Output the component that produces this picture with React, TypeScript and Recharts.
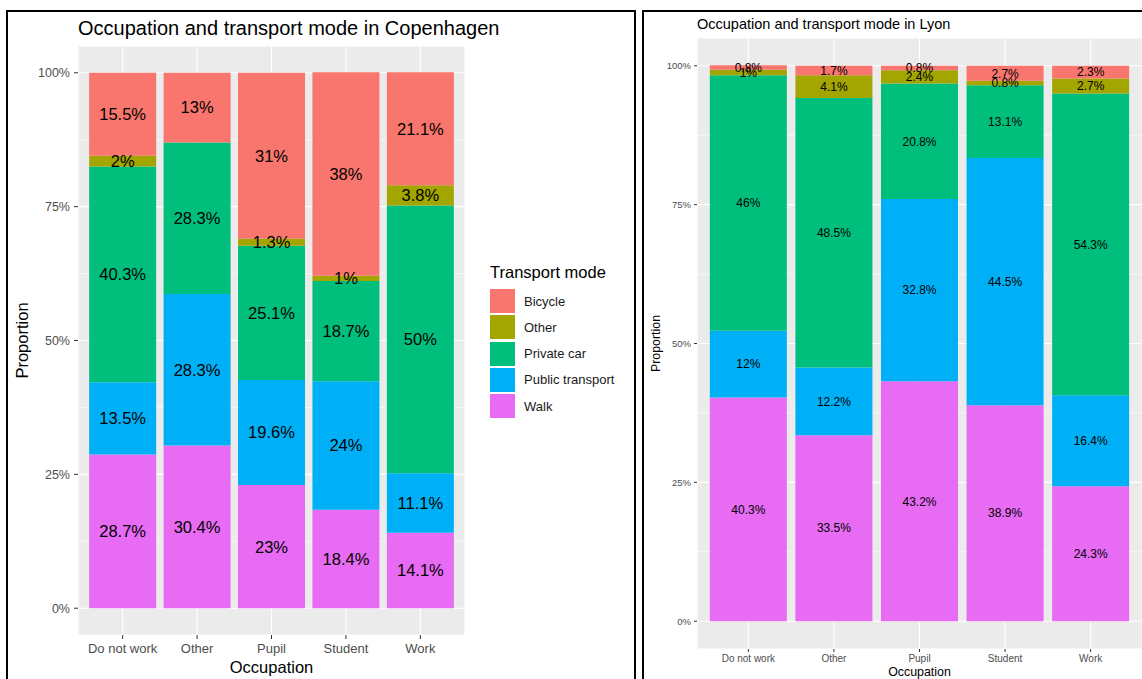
import React from 'react';
import { BarChart, Bar, XAxis, YAxis, CartesianGrid, LabelList, Legend } from 'recharts';

const FONT = '"Liberation Sans", Arial, Helvetica, sans-serif';

const occupations = ['Do not work', 'Other', 'Pupil', 'Student', 'Work'];
const modes = ['Bicycle', 'Other', 'Private car', 'Public transport', 'Walk'];
const modeColors = ['#F8766D', '#A3A500', '#00BF7D', '#00B0F6', '#E76BF3'];
const yTicks = [0, 25, 50, 75, 100];
const yMinorTicks = [12.5, 37.5, 62.5, 87.5];

// Copenhagen (percent)
const cphWalk = [28.7, 30.4, 23, 18.4, 14.1];
const cphPublic = [13.5, 28.3, 19.6, 24, 11.1];
const cphCar = [40.3, 28.3, 25.1, 18.7, 50];
const cphOther = [2, 0, 1.3, 1, 3.8];
const cphBicycle = [15.5, 13, 31, 38, 21.1];

// Lyon (percent)
const lyonWalk = [40.3, 33.5, 43.2, 38.9, 24.3];
const lyonPublic = [12, 12.2, 32.8, 44.5, 16.4];
const lyonCar = [46, 48.5, 20.8, 13.1, 54.3];
const lyonOther = [1, 4.1, 2.4, 0.8, 2.7];
const lyonBicycle = [0.8, 1.7, 0.8, 2.7, 2.3];

const buildData = (walk: number[], pub: number[], car: number[], other: number[], bike: number[]) =>
  occupations.map((occ, i) => ({
    occupation: occ,
    Walk: walk[i],
    'Public transport': pub[i],
    'Private car': car[i],
    Other: other[i],
    Bicycle: bike[i],
  }));

const cphData = buildData(cphWalk, cphPublic, cphCar, cphOther, cphBicycle);
const lyonData = buildData(lyonWalk, lyonPublic, lyonCar, lyonOther, lyonBicycle);

// stacking order bottom -> top
const stackOrder = ['Walk', 'Public transport', 'Private car', 'Other', 'Bicycle'];

const fmt = (v: any) => (v ? `${v}%` : '');

type PanelProps = {
  data: any[];
  width: number;
  height: number;
  top: number;
  xAxisHeight: number;
  yAxisWidth: number;
  xPad: number;
  yTickFont: number;
  xTickFont: number;
  yTickMargin: number;
  xTickMargin: number;
  tickSize: number;
  labelFont: number;
  axisTitleFont: number;
  yTitleX: number;
  xTitleBaseline: number;
  rightMargin: number;
  legend?: boolean;
};

const LegendBox = () => (
  <div style={{ fontFamily: FONT, color: '#000' }}>
    <div style={{ fontSize: 16.5, lineHeight: '16.5px', marginBottom: 8.5, whiteSpace: 'nowrap' }}>Transport mode</div>
    {modes.map((m, i) => (
      <div key={m} style={{ display: 'flex', alignItems: 'center', height: 24, marginBottom: 2.3 }}>
        <div style={{ width: 25, height: 24, background: modeColors[i] }} />
        <span style={{ marginLeft: 9, fontSize: 13, color: '#1A1A1A', whiteSpace: 'nowrap' }}>{m}</span>
      </div>
    ))}
  </div>
);

const Panel = (p: PanelProps) => (
  <BarChart
    width={p.width}
    height={p.height}
    data={p.data}
    margin={{ top: p.top, right: p.rightMargin, bottom: 0, left: 0 }}
    barCategoryGap="5%"
    style={{ fontFamily: FONT }}
  >
    <CartesianGrid fill="#EBEBEB" fillOpacity={1} stroke="#FFFFFF" strokeWidth={1.1} />
    <CartesianGrid horizontalValues={yMinorTicks} vertical={false} stroke="#FFFFFF" strokeWidth={0.55} />
    <XAxis
      dataKey="occupation"
      type="category"
      padding={{ left: p.xPad, right: p.xPad }}
      axisLine={false}
      tickLine={{ stroke: '#333333' }}
      tickSize={p.tickSize}
      tickMargin={p.xTickMargin}
      tick={{ fill: '#4D4D4D', fontSize: p.xTickFont, fontFamily: FONT }}
      height={p.xAxisHeight}
      interval={0}
      label={{
        content: (lp: any) => {
          const vb = lp.viewBox || {};
          return (
            <text
              x={vb.x + vb.width / 2}
              y={p.xTitleBaseline}
              textAnchor="middle"
              fontSize={p.axisTitleFont}
              fontFamily={FONT}
              fill="#000"
            >
              Occupation
            </text>
          );
        },
      }}
    />
    <YAxis
      type="number"
      domain={[-5, 105]}
      ticks={yTicks}
      tickFormatter={(v: number) => `${v}%`}
      width={p.yAxisWidth}
      axisLine={false}
      tickLine={{ stroke: '#333333' }}
      tickSize={p.tickSize}
      tickMargin={p.yTickMargin}
      tick={{ fill: '#4D4D4D', fontSize: p.yTickFont, fontFamily: FONT }}
      allowDataOverflow
      label={{
        content: (lp: any) => {
          const vb = lp.viewBox || {};
          const cy = vb.y + vb.height / 2;
          return (
            <text
              x={p.yTitleX}
              y={cy}
              transform={`rotate(-90, ${p.yTitleX}, ${cy})`}
              textAnchor="middle"
              dominantBaseline="central"
              fontSize={p.axisTitleFont}
              fontFamily={FONT}
              fill="#000"
            >
              Proportion
            </text>
          );
        },
      }}
    />
    {stackOrder.map((key) => (
      <Bar
        key={key}
        dataKey={key}
        stackId="a"
        fill={modeColors[modes.indexOf(key)]}
        isAnimationActive={false}
      >
        <LabelList
          dataKey={key}
          position="center"
          formatter={fmt}
          fill="#000"
          fontSize={p.labelFont}
          fontFamily={FONT}
        />
      </Bar>
    ))}
    {p.legend ? (
      <Legend
        layout="vertical"
        align="center"
        verticalAlign="middle"
        wrapperStyle={{ left: 490, top: 264, width: 150 }}
        content={() => <LegendBox />}
      />
    ) : null}
  </BarChart>
);

export default function App() {
  return (
    <div
      style={{
        position: 'absolute',
        left: 0,
        top: 0,
        width: 1142,
        height: 679,
        overflow: 'hidden',
        background: '#FFFFFF',
        fontFamily: FONT,
      }}
    >
      {/* frames */}
      <div style={{ position: 'absolute', left: 6, top: 10, width: 626, height: 700, border: '2px solid #000' }} />
      <div style={{ position: 'absolute', left: 642, top: 10, width: 520, height: 700, border: '2px solid #000' }} />

      {/* Copenhagen */}
      <div style={{ position: 'absolute', left: 0, top: 0 }}>
        <Panel
          data={cphData}
          width={640}
          height={679}
          top={46}
          rightMargin={175}
          xAxisHeight={44}
          yAxisWidth={78}
          xPad={7.44}
          yTickFont={12.5}
          xTickFont={13}
          yTickMargin={4}
          xTickMargin={5}
          tickSize={4}
          labelFont={16.5}
          axisTitleFont={16.5}
          yTitleX={22}
          xTitleBaseline={673}
          legend
        />
      </div>
      <div
        style={{
          position: 'absolute',
          left: 78,
          top: 18,
          fontSize: 20,
          lineHeight: '20px',
          color: '#000',
          whiteSpace: 'nowrap',
        }}
      >
        Occupation and transport mode in Copenhagen
      </div>

      {/* Lyon */}
      <div style={{ position: 'absolute', left: 640, top: 0 }}>
        <Panel
          data={lyonData}
          width={502}
          height={679}
          top={38}
          rightMargin={0}
          xAxisHeight={30}
          yAxisWidth={57}
          xPad={8.56}
          yTickFont={9.5}
          xTickFont={10}
          yTickMargin={3}
          xTickMargin={3}
          tickSize={3}
          labelFont={12}
          axisTitleFont={12.4}
          yTitleX={16}
          xTitleBaseline={676}
        />
      </div>
      <div
        style={{
          position: 'absolute',
          left: 697,
          top: 17,
          fontSize: 14.5,
          lineHeight: '14.5px',
          color: '#000',
          whiteSpace: 'nowrap',
        }}
      >
        Occupation and transport mode in Lyon
      </div>
    </div>
  );
}
